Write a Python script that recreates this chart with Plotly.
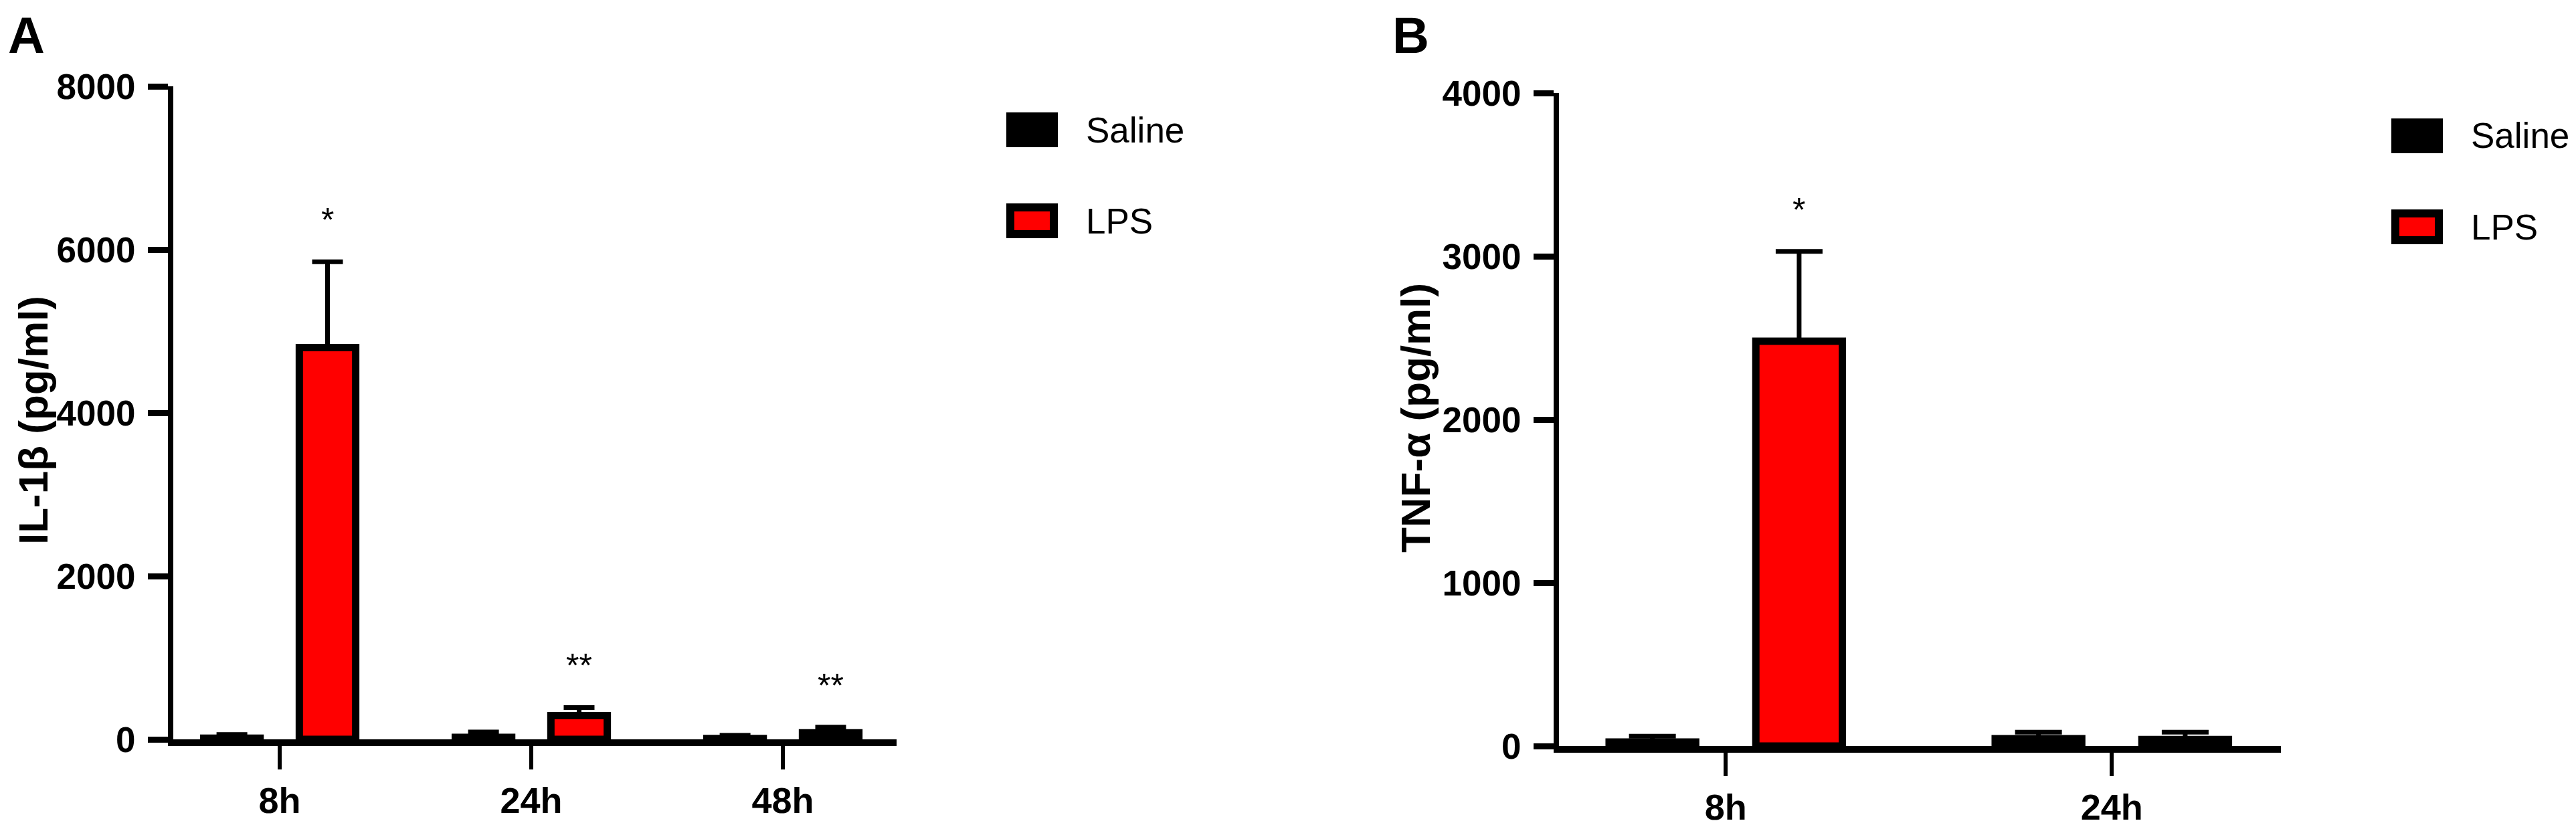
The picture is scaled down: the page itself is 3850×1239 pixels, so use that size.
import plotly.graph_objects as go

W, H = 3850, 1239

# ---- data (mean + SEM) ----
il1b_times = ["8h", "24h", "48h"]
il1b_saline = [15, 25, 10]
il1b_saline_sem = [45, 65, 40]
il1b_lps = [4800, 290, 80]
il1b_lps_sem = [1050, 100, 70]
il1b_marks = ["*", "**", "**"]
il1b_ticks = [0, 2000, 4000, 6000, 8000]

tnf_times = ["8h", "24h"]
tnf_saline = [25, 45]
tnf_saline_sem = [35, 40]
tnf_lps = [2480, 40]
tnf_lps_sem = [550, 45]
tnf_marks = ["*", ""]
tnf_ticks = [0, 1000, 2000, 3000, 4000]

groups = ["Saline", "LPS"]
colors = {"Saline": "#000000", "LPS": "#ff0000"}

FONT = "Liberation Sans, Arial, sans-serif"
BARGAP = 0.24
SLOT_OFF = (1 - BARGAP) / 4  # centre of each bar inside a group


def px_x(p):
    return p / W


def px_y(p):
    return 1 - p / H


fig = go.Figure()


def add_panel(xa, ya, times, sal, sal_err, lps, lps_err, cap):
    for name, vals, errs in (("Saline", sal, sal_err), ("LPS", lps, lps_err)):
        fig.add_trace(go.Bar(
            x=times, y=vals, name=name, showlegend=False,
            xaxis=xa, yaxis=ya,
            marker=dict(color=colors[name], line=dict(color="black", width=11)),
            error_y=dict(type="data", symmetric=False, array=errs,
                         arrayminus=[0] * len(errs), color="black",
                         thickness=7, width=cap),
        ))


add_panel("x", "y", il1b_times, il1b_saline, il1b_saline_sem,
          il1b_lps, il1b_lps_sem, 23)
add_panel("x2", "y2", tnf_times, tnf_saline, tnf_saline_sem,
          tnf_lps, tnf_lps_sem, 35)

tick_font = dict(family=FONT, size=53, color="black", weight="bold")
common_x = dict(type="category", showline=True, linewidth=10, linecolor="black",
                ticks="outside", ticklen=35, tickwidth=6, tickcolor="black",
                tickfont=dict(tick_font, size=54), showgrid=False, zeroline=False,
                ticklabelstandoff=0, automargin=False)
common_y = dict(showline=True, linewidth=8, linecolor="black",
                ticks="outside", ticklen=30, tickwidth=9, tickcolor="black",
                tickfont=tick_font, showgrid=False, zeroline=False,
                ticklabelstandoff=8, automargin=False)

fig.update_layout(
    template="none",
    width=W, height=H,
    margin=dict(l=0, r=0, t=0, b=0, pad=0),
    paper_bgcolor="white", plot_bgcolor="white",
    showlegend=False,
    barmode="group", bargap=BARGAP, bargroupgap=0.41,
    xaxis=dict(common_x, domain=[px_x(251), px_x(1332)], range=[-0.423, 2.452],
               anchor="y"),
    yaxis=dict(common_y, domain=[px_y(1097), px_y(121)], range=[0, 8000],
               tickvals=il1b_ticks, anchor="x"),
    xaxis2=dict(common_x, domain=[px_x(2322), px_x(3401)], range=[-0.432, 1.438],
                anchor="y2"),
    yaxis2=dict(common_y, domain=[px_y(1107), px_y(131)], range=[0, 4000],
                tickvals=tnf_ticks, anchor="x2"),
)

annotations = []

# significance marks above the LPS error bars
for xa, ya, lps, err, marks in (("x", "y", il1b_lps, il1b_lps_sem, il1b_marks),
                                ("x2", "y2", tnf_lps, tnf_lps_sem, tnf_marks)):
    for i, m in enumerate(marks):
        if not m:
            continue
        annotations.append(dict(
            x=i + SLOT_OFF, y=lps[i] + err[i], xref=xa, yref=ya,
            text=m, showarrow=False, yanchor="bottom", yshift=32,
            font=dict(family=FONT, size=50, color="black"),
        ))

# y-axis titles
title_font = dict(family=FONT, size=62, color="black", weight="bold")
annotations.append(dict(x=px_x(41), y=px_y(620), xref="paper", yref="paper",
                        text="IL-1β (pg/ml)", textangle=-90, showarrow=False,
                        xanchor="center", yanchor="middle", font=title_font))
annotations.append(dict(x=px_x(2107), y=px_y(617), xref="paper", yref="paper",
                        text="TNF-α (pg/ml)", textangle=-90, showarrow=False,
                        xanchor="center", yanchor="middle", font=title_font))

# panel letters
for letter, lx in (("A", 2), ("B", 2071)):
    annotations.append(dict(x=px_x(lx), y=1, xref="paper", yref="paper",
                            text=letter, showarrow=False, xanchor="left",
                            yanchor="top",
                            font=dict(family=FONT, size=76, color="black",
                                      weight="bold")))

# hand-drawn legends (large swatches like the original)
shapes = []
for lx, top in ((1496, 160), (3566, 169)):
    sw = 77
    sh = 52
    step = 136
    # Saline: solid black box
    shapes.append(dict(type="rect", xref="paper", yref="paper",
                       x0=px_x(lx), x1=px_x(lx + sw), y0=px_y(top + sh), y1=px_y(top),
                       fillcolor=colors["Saline"], line=dict(width=0)))
    # LPS: red box with black border
    t2 = top + step
    shapes.append(dict(type="rect", xref="paper", yref="paper",
                       x0=px_x(lx + 6), x1=px_x(lx + sw - 6),
                       y0=px_y(t2 + sh - 6), y1=px_y(t2 + 6),
                       fillcolor=colors["LPS"], line=dict(color="black", width=12)))
    for k, name in enumerate(groups):
        annotations.append(dict(x=px_x(lx + sw + 40), y=px_y(top + sh / 2 + k * step),
                                xref="paper", yref="paper", text=name,
                                showarrow=False, xanchor="left", yanchor="middle",
                                font=dict(family=FONT, size=53, color="black")))

fig.update_layout(annotations=annotations, shapes=shapes)

fig.write_html("out.html")
